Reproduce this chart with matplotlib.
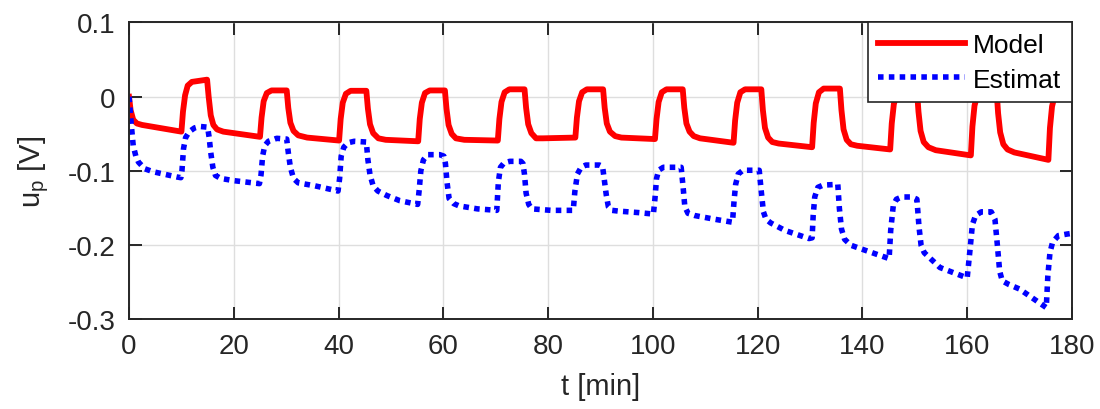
import matplotlib
matplotlib.use("Agg")
import matplotlib.pyplot as plt

plt.rcParams['font.family'] = ['Liberation Sans', 'DejaVu Sans']
plt.rcParams['mathtext.fontset'] = 'custom'
plt.rcParams['mathtext.rm'] = 'Liberation Sans'
plt.rcParams['mathtext.it'] = 'Liberation Sans:italic'

# Model (red, solid)
t_model = [0, 0.3, 0.8, 1.5, 2.5, 5, 10.0,
           10.3, 10.7, 11.2, 12.0, 14.9, 15.2, 15.6, 16.1, 16.8, 18.0, 25.0,
           25.3, 25.7, 26.3, 27.2, 30.1, 30.4, 30.8, 31.4, 32.3, 34.0, 40.1,
           40.4, 40.8, 41.4, 42.3, 45.3, 45.6, 46.0, 46.6, 47.6, 49.0, 55.2,
           55.5, 55.9, 56.5, 57.4, 60.3, 60.6, 61.0, 61.6, 62.4, 64.0, 70.4,
           70.7, 71.1, 71.7, 72.6, 75.5, 75.8, 76.2, 76.8, 77.7, 79.0, 85.2,
           85.5, 85.9, 86.5, 87.4, 90.5, 90.8, 91.2, 91.8, 92.8, 94.0, 100.4,
           100.7, 101.1, 101.7, 102.6, 105.7, 106.0, 106.4, 107.0, 107.8, 109.0, 115.4,
           115.7, 116.1, 116.7, 117.6, 120.7, 121.0, 121.4, 122.0, 122.8, 124.0, 130.4,
           130.7, 131.1, 131.7, 132.6, 135.7, 136.0, 136.4, 137.0, 137.8, 139.0, 145.3,
           145.6, 146.0, 146.6, 147.5, 150.4, 150.7, 151.1, 151.7, 152.6, 154.0, 160.7,
           161.0, 161.4, 162.0, 162.9, 165.6, 165.9, 166.3, 166.9, 167.7, 169.0, 175.5,
           175.8, 176.2, 176.8, 177.7, 180.0]
v_model = [0, -0.018, -0.031, -0.036, -0.038, -0.041, -0.047,
           -0.020, 0.002, 0.015, 0.020, 0.023, 0.000, -0.025, -0.038, -0.044, -0.047, -0.054,
           -0.028, -0.006, 0.005, 0.0085, 0.0085, -0.015, -0.035, -0.046, -0.052, -0.055, -0.059,
           -0.030, -0.008, 0.004, 0.008, 0.008, -0.016, -0.037, -0.049, -0.056, -0.058, -0.060,
           -0.030, -0.008, 0.005, 0.0085, 0.0085, -0.016, -0.038, -0.050, -0.056, -0.058, -0.059,
           -0.030, -0.007, 0.006, 0.010, 0.010, -0.015, -0.037, -0.049, -0.056, -0.056, -0.055,
           -0.028, -0.006, 0.006, 0.010, 0.010, -0.015, -0.036, -0.047, -0.053, -0.055, -0.057,
           -0.030, -0.007, 0.006, 0.010, 0.010, -0.015, -0.036, -0.047, -0.053, -0.056, -0.062,
           -0.032, -0.008, 0.006, 0.010, 0.010, -0.018, -0.042, -0.055, -0.061, -0.063, -0.068,
           -0.035, -0.009, 0.006, 0.011, 0.011, -0.018, -0.044, -0.058, -0.064, -0.066, -0.071,
           -0.036, -0.010, 0.005, 0.010, 0.010, -0.020, -0.046, -0.061, -0.068, -0.072, -0.079,
           -0.040, -0.012, 0.004, 0.010, 0.010, -0.022, -0.048, -0.064, -0.071, -0.075, -0.085,
           -0.042, -0.013, 0.004, 0.010, 0.010]

# Estimat (blue, dotted)
t_est = [0, 0.5, 0.8, 1.3, 1.8, 3.0, 4.6, 9.1, 9.9,
         10.1, 10.4, 10.8, 11.5, 12.5, 13.5, 15.0,
         15.3, 15.6, 16.0, 16.5, 17.5, 20.0, 24.9,
         25.2, 25.5, 25.9, 26.6, 28.2, 30.1,
         30.4, 30.8, 31.4, 32.3, 35.5, 39.9,
         40.2, 40.5, 41.0, 41.8, 43.0, 45.3,
         45.6, 46.0, 46.6, 47.5, 49.2, 51.7, 55.1,
         55.4, 55.7, 56.2, 57.0, 59.3, 60.1,
         60.4, 60.7, 61.1, 62.0, 63.0, 66.5, 70.2,
         70.5, 70.9, 71.6, 72.7, 74.8, 75.2,
         75.5, 75.8, 76.3, 76.9, 80.6, 84.8,
         85.1, 85.6, 86.3, 87.2, 89.8, 90.4,
         90.7, 91.1, 91.5, 92.2, 93.4, 97.2, 100.1,
         100.4, 100.7, 101.1, 102.0, 105.4,
         105.8, 106.1, 106.7, 108.0, 111.8, 115.2,
         115.5, 115.8, 116.3, 117.2, 120.3,
         120.7, 121.1, 121.6, 122.5, 125.2, 129.8,
         130.4, 130.6, 130.9, 131.5, 132.5, 135.3,
         135.6, 136.0, 136.6, 137.8, 139.8, 145.1,
         145.4, 145.9, 146.5, 147.5, 149.4, 150.4,
         150.8, 151.2, 151.8, 154.8, 160.0,
         160.5, 161.0, 161.6, 162.7, 164.6, 165.3,
         165.7, 166.2, 166.7, 168.0, 170.0, 175.1,
         175.4, 175.8, 176.3, 177.4, 179.0, 180.0]
v_est = [0, -0.043, -0.066, -0.080, -0.088, -0.097, -0.101, -0.108, -0.109,
         -0.100, -0.070, -0.055, -0.047, -0.042, -0.040, -0.041,
         -0.055, -0.075, -0.095, -0.106, -0.110, -0.113, -0.117,
         -0.105, -0.080, -0.066, -0.060, -0.056, -0.057,
         -0.075, -0.095, -0.110, -0.116, -0.120, -0.127,
         -0.110, -0.080, -0.068, -0.062, -0.060, -0.061,
         -0.085, -0.105, -0.120, -0.127, -0.133, -0.140, -0.145,
         -0.125, -0.100, -0.085, -0.078, -0.078, -0.080,
         -0.090, -0.115, -0.137, -0.144, -0.147, -0.151, -0.153,
         -0.115, -0.095, -0.089, -0.087, -0.087, -0.090,
         -0.105, -0.130, -0.145, -0.151, -0.153, -0.153,
         -0.128, -0.104, -0.095, -0.092, -0.092, -0.094,
         -0.110, -0.132, -0.148, -0.153, -0.154, -0.156, -0.158,
         -0.137, -0.110, -0.099, -0.095, -0.095,
         -0.124, -0.148, -0.157, -0.160, -0.165, -0.169,
         -0.140, -0.118, -0.104, -0.099, -0.099,
         -0.128, -0.155, -0.165, -0.170, -0.180, -0.191,
         -0.190, -0.160, -0.135, -0.122, -0.119, -0.118,
         -0.150, -0.178, -0.192, -0.200, -0.205, -0.218,
         -0.180, -0.146, -0.138, -0.135, -0.135, -0.138,
         -0.175, -0.200, -0.210, -0.230, -0.244,
         -0.209, -0.172, -0.160, -0.155, -0.155, -0.165,
         -0.195, -0.235, -0.248, -0.253, -0.259, -0.284,
         -0.241, -0.210, -0.196, -0.187, -0.185, -0.184]

x_ticks = [0, 20, 40, 60, 80, 100, 120, 140, 160, 180]
y_ticks = [-0.3, -0.2, -0.1, 0, 0.1]
y_ticklabels = ['-0.3', '-0.2', '-0.1', '0', '0.1']

fig = plt.figure(figsize=(11, 4.1), dpi=100)
ax = fig.add_axes([0.1173, 0.2183, 0.8572, 0.7244])

ax.plot(t_model, v_model, color='#ff0000', lw=4.2, solid_joinstyle='round',
        label='Model', zorder=3)
ax.plot(t_est, v_est, color='#0000ff', lw=4.0, linestyle=(0, (1.0, 0.95)),
        dash_capstyle='butt', label='Estimat', zorder=4)

ax.set_xlim(0, 180)
ax.set_ylim(-0.3, 0.1)
ax.set_xticks(x_ticks)
ax.set_yticks(y_ticks)
ax.set_yticklabels(y_ticklabels)

tc = '#262626'
for s in ax.spines.values():
    s.set_color(tc)
    s.set_linewidth(1.4)
    s.set_zorder(6)
ax.tick_params(direction='in', length=9, width=1.4, colors=tc, labelsize=20,
               top=True, right=True, pad=10)
ax.grid(True, color='#dedede', lw=1.0, zorder=0)
ax.set_axisbelow(True)

ax.set_xlabel('t [min]', fontsize=21, color=tc, labelpad=9)
ax.set_ylabel(r'u$_\mathregular{p}$ [V]', fontsize=21, color=tc, labelpad=12)

leg = ax.legend(loc='upper right', fontsize=19, frameon=True, fancybox=False,
                edgecolor='#262626', framealpha=1.0, borderaxespad=0.0,
                handlelength=3.3, handletextpad=0.3, labelspacing=0.4,
                borderpad=0.4)
leg.get_frame().set_linewidth(1.2)
leg.set_zorder(10)

fig.savefig('out.png', dpi=100, facecolor='white')
